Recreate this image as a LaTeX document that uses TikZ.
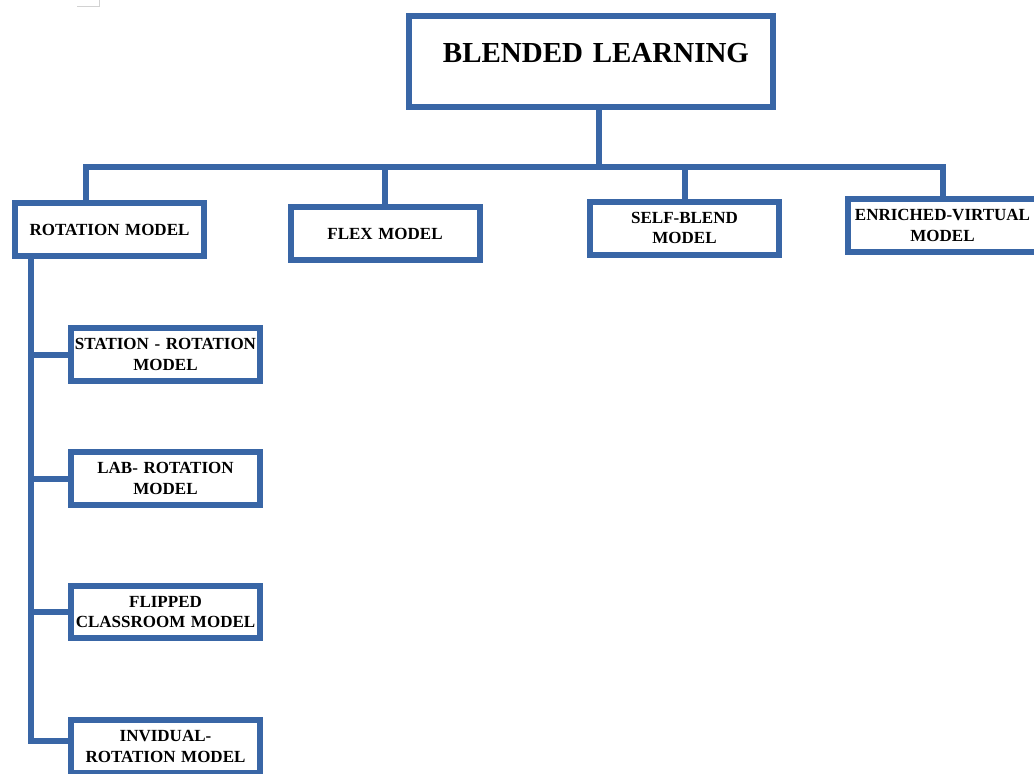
\documentclass[tikz,border=0pt]{standalone}
\usepackage{fontspec}
\setmainfont{Liberation Serif}
\usepackage{xcolor}
\usetikzlibrary{positioning}
\definecolor{lineblue}{RGB}{57,102,166}

\begin{document}
\begin{tikzpicture}[x=1pt, y=-1pt,
    box/.style={draw=lineblue, line width=6pt, align=center, text width=183pt,
        inner xsep=3pt, inner ysep=0pt, minimum height=53pt,
        font=\bfseries\fontsize{17}{20.5}\selectfont},
    wire/.style={draw=lineblue, line width=6pt, line join=miter}]
    \useasboundingbox (0,0) rectangle (1034,774);
    \draw[gray!35, line width=1pt] (77,6) -- (99,6) -- (99,0);

    \node [box, text width=358pt, minimum height=91pt, text height=20pt, text depth=19pt,
        font=\bfseries\fontsize{29}{34}\selectfont] (title) at (591,61.5) {\hspace*{10pt}BLENDED LEARNING};

    \node [box] (rot) at (109.5,229.5) {ROTATION MODEL};
    \node [box] (flex) at (385,233.5) {FLEX MODEL};
    \node [box] (self) at (684.5,228) {SELF-BLEND\\MODEL};
    \node [box] (ev) at (942.5,225.5) {ENRICHED-VIRTUAL\\MODEL};

    \node [box] (station) at (165.5,354.5) {STATION - ROTATION\\MODEL};
    \node [box] (lab) at (165.5,478.5) {LAB- ROTATION\\MODEL};
    \node [box, minimum height=52pt] (flip) at (165.5,612) {FLIPPED\\CLASSROOM MODEL};
    \node [box] (indiv) at (165.5,746.5) {INVIDUAL-\\ROTATION MODEL};

    \coordinate (bus) at (599,167);
    \coordinate (spine) at ([xshift=-78.5pt]rot.south);

    \draw[wire] ([xshift=8pt]title.south) -- ([xshift=8pt]title.south |- bus);
    \draw[wire] ([xshift=-23.5pt]rot.north) -- ([xshift=-23.5pt]rot.north |- bus) -- (ev.north |- bus) -- (ev.north);
    \draw[wire] (flex.north) -- (flex.north |- bus);
    \draw[wire] (self.north) -- (self.north |- bus);

    \draw[wire] (spine) |- ([yshift=5.5pt]indiv.west);
    \draw[wire] (station.west) -- (station.west -| spine);
    \draw[wire] (lab.west) -- (lab.west -| spine);
    \draw[wire] (flip.west) -- (flip.west -| spine);
\end{tikzpicture}
\end{document}
